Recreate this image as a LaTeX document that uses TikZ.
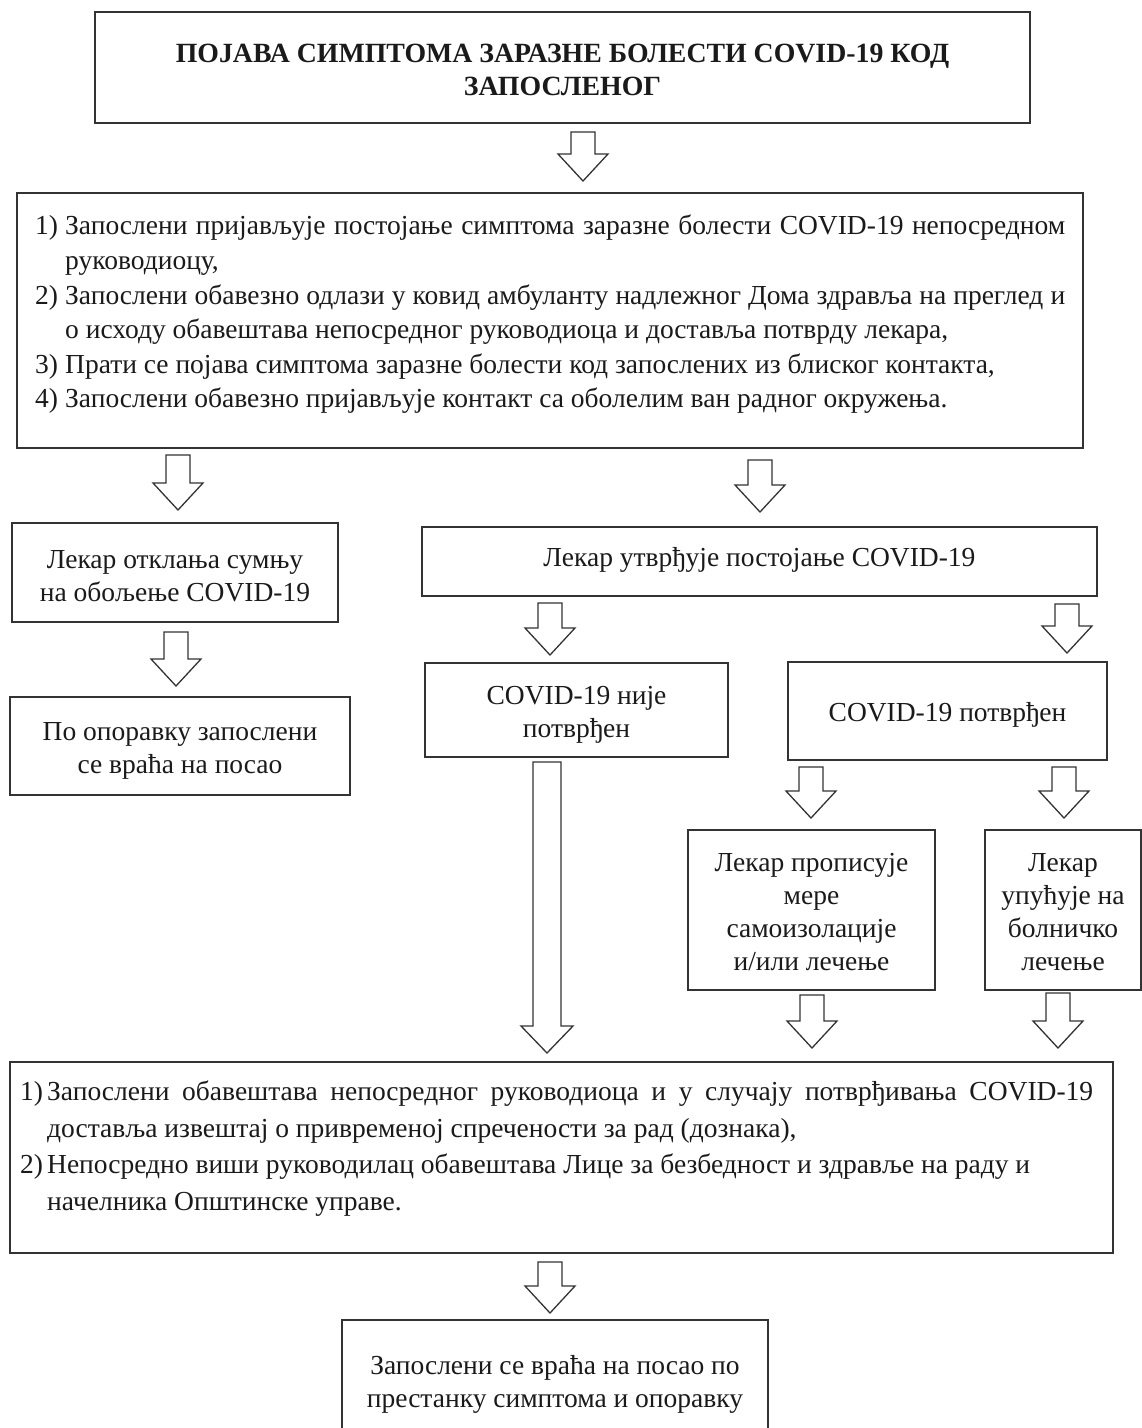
\documentclass[tikz,border=0pt]{standalone}
\usepackage{fontspec}
\setmainfont{Liberation Serif}
\definecolor{linec}{HTML}{333333}
\definecolor{textc}{HTML}{1A1A1A}
\tikzset{
  frame/.style={draw=linec, line width=1.6pt, inner sep=0pt},
  txt/.style={inner sep=0pt, align=center, text=textc, font=\fontsize{27.5}{33}\selectfont},
  listtext/.style={inner sep=0pt, align=left, text=textc,
    execute at begin node=\strut},
  barrow/.style={draw=linec, line width=1.3pt, line join=miter, fill=white},
}
\newcommand\blkarrow[5]{%
  \draw[barrow] (#1-#4,#2) -- (#1+#4,#2) -- (#1+#4,#3-27) -- (#1+#5,#3-27) -- (#1,#3)
    -- (#1-#5,#3-27) -- (#1-#4,#3-27) -- cycle;}
\begin{document}
\begin{tikzpicture}[x=1pt,y=-1pt]
\useasboundingbox (0,0) rectangle (1142,1428);
\clip (0,0) rectangle (1142,1428);
\fill[white] (0,0) rectangle (1142,1428);

% title
\node[frame, minimum width=935, minimum height=111] (title) at (562.5,67.5) {};
\node[txt, font=\bfseries\fontsize{27.8}{33}\selectfont, yshift=-2pt] (titleT) at (title)
  {ПОЈАВА СИМПТОМА ЗАРАЗНЕ БОЛЕСТИ COVID-19 КОД\\ЗАПОСЛЕНОГ};

% steps
\node[frame, minimum width=1066, minimum height=255] (steps) at (550,320.5) {};
\node[listtext, font=\fontsize{27.5}{34.6}\selectfont, anchor=north west] (stepstext) at (35,215) {%
\makebox[30pt][l]{1)}\makebox[1000pt][s]{Запослени пријављује постојање симптома заразне болести COVID-19 непосредном}\\
\hspace*{30pt}руководиоцу,\\
\makebox[30pt][l]{2)}\makebox[1000pt][s]{Запослени обавезно одлази у ковид амбуланту надлежног Дома здравља на преглед и}\\
\hspace*{30pt}о исходу обавештава непосредног руководиоца и доставља потврду лекара,\\
\makebox[30pt][l]{3)}Прати се појава симптома заразне болести код запослених из блиског контакта,\\
\makebox[30pt][l]{4)}Запослени обавезно пријављује контакт са оболелим ван радног окружења.};

% second row
\node[frame, minimum width=326, minimum height=99] (reject) at (175,572.5) {};
\node[txt, yshift=-4pt] (rejectT) at (reject) {Лекар отклања сумњу\\на обољење COVID-19};
\node[frame, minimum width=675, minimum height=69] (confirm) at (759.5,561.5) {};
\node[txt, yshift=1.5pt] (confirmT) at (confirm) {Лекар утврђује постојање COVID-19};

% third row
\node[frame, minimum width=340, minimum height=98] (return) at (180,746) {};
\node[txt, yshift=-5pt] (returnT) at (return) {По опоравку запослени\\се враћа на посао};
\node[frame, minimum width=303, minimum height=94] (notconf) at (576.5,710) {};
\node[txt, yshift=-5pt] (notconfT) at (notconf) {COVID-19 није\\потврђен};
\node[frame, minimum width=319, minimum height=98] (conf) at (947.5,711) {};
\node[txt, yshift=-4pt] (confT) at (conf) {COVID-19 потврђен};

% fourth row
\node[frame, minimum width=247, minimum height=160] (iso) at (811.5,910) {};
\node[txt, yshift=-2.5pt] (isoT) at (iso) {Лекар прописује\\мере\\самоизолације\\и/или лечење};
\node[frame, minimum width=156, minimum height=160] (hosp) at (1063,910) {};
\node[txt, yshift=-2.5pt] (hospT) at (hosp) {Лекар\\упућује на\\болничко\\лечење};

% report
\node[frame, minimum width=1103, minimum height=191] (report) at (561.5,1157.5) {};
\node[listtext, font=\fontsize{27.5}{36.4}\selectfont, anchor=north west] (reporttext) at (20,1081) {%
\makebox[27pt][l]{1)}\makebox[1046pt][s]{Запослени обавештава непосредног руководиоца и у случају потврђивања COVID-19}\\
\hspace*{27pt}доставља извештај о привременој спречености за рад (дознака),\\
\makebox[27pt][l]{2)}Непосредно виши руководилац обавештава Лице за безбедност и здравље на раду и\\
\hspace*{27pt}начелника Општинске управе.};

% final
\node[frame, minimum width=426, minimum height=120] (final) at (555,1380) {};
\node[txt, yshift=-4.5pt] (finalT) at (final) {Запослени се враћа на посао по\\престанку симптома и опоравку};

% block arrows
\blkarrow{583}{132}{181}{12}{25}
\blkarrow{178}{455}{510}{12}{25}
\blkarrow{760}{460}{512}{12}{25}
\blkarrow{176}{632}{686}{12}{25}
\blkarrow{550}{603}{655}{12}{25}
\blkarrow{1067}{604}{653}{12}{25}
\blkarrow{547}{762}{1053}{14}{26}
\blkarrow{811}{767}{818}{12}{25}
\blkarrow{1064}{767}{818}{12}{25}
\blkarrow{812}{995}{1048}{12}{25}
\blkarrow{1058}{993}{1048}{12}{25}
\blkarrow{550}{1262}{1313}{12}{25}
\end{tikzpicture}
\end{document}
